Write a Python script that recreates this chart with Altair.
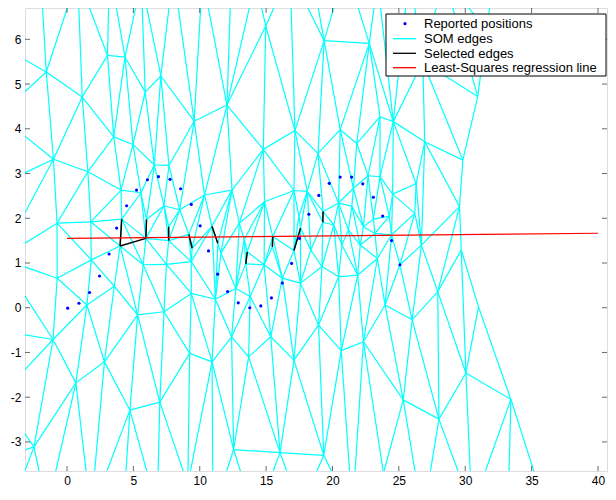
import altair as alt
import pandas as pd

# ---------------- axes ----------------
X_DOMAIN = [-3.164, 40.68]
Y_DOMAIN = [-3.65, 6.70]
X_TICKS = [0, 5, 10, 15, 20, 25, 30, 35, 40]
Y_TICKS = [-3, -2, -1, 0, 1, 2, 3, 4, 5, 6]

# ---------------- reported positions ----------------
POS_X = [0.05, 0.90, 1.70, 2.45, 3.17, 3.74, 4.49, 5.24, 6.06, 6.89, 7.76, 8.56, 9.36, 10.03,
         10.66, 11.35, 12.10, 12.90, 13.77, 14.60, 15.40, 16.22, 16.92, 17.52,
         18.22, 18.97, 19.76, 20.58, 21.44, 22.28, 23.08, 23.78, 24.45, 25.08]
POS_Y = [-0.01, 0.10, 0.34, 0.71, 1.20, 1.78, 2.28, 2.63, 2.86, 2.93, 2.87, 2.66, 2.31, 1.83,
         1.27, 0.75, 0.36, 0.11, 0.00, 0.04, 0.22, 0.55, 0.99, 1.55,
         2.09, 2.51, 2.78, 2.92, 2.92, 2.77, 2.47, 2.05, 1.50, 0.96]

# ---------------- least-squares regression line ----------------
REG_X = [0, 40]
REG_Y = [1.55, 1.665]

# ---------------- selected edges ----------------
SEL_X1 = [4.12, 4.00, 5.94, 7.66, 9.18, 10.92, 13.58, 15.50, 17.59, 19.29]
SEL_Y1 = [1.98, 1.38, 1.55, 1.81, 1.64, 1.82, 1.25, 1.59, 1.78, 2.15]
SEL_X2 = [4.00, 5.94, 5.99, 7.66, 9.43, 11.36, 13.47, 15.47, 17.10, 19.27]
SEL_Y2 = [1.38, 1.55, 1.97, 1.50, 1.33, 1.44, 0.98, 1.36, 1.28, 1.91]

# ---------------- SOM node positions ----------------
NODES_UPPER = [(-1.56, 5.27), (1.15, 4.71), (3.05, 5.64), (4.37, 5.60), (5.89, 4.82), (7.07, 5.18),
               (3.52, 3.82), (4.97, 3.65), (-1.02, 3.32), (1.57, 3.04), (6.58, 3.19), (7.68, 3.18),
               (9.58, 4.17), (12.05, 4.53), (14.97, 6.30), (17.17, 3.96), (14.79, 3.54), (19.37, 5.97),
               (22.77, 5.91), (20.58, 3.98), (18.91, 3.45), (21.83, 3.67), (23.58, 4.27), (24.58, 4.16),
               (26.95, 3.71), (29.82, 3.30), (30.94, 4.72), (26.8, 5.5), (31.6, 6.2)]
NODES_MIDDLE = [(4.07, 2.63), (5.57, 2.57), (7.31, 2.28), (8.49, 2.19), (10.36, 2.52), (12.43, 2.63),
                (14.88, 2.37), (17.10, 2.62), (17.47, 2.05), (-0.75, 1.89), (1.79, 1.92), (4.12, 1.98),
                (5.99, 1.97), (7.66, 1.81), (9.18, 1.64), (10.92, 1.82), (12.98, 1.89), (17.59, 1.78),
                (19.29, 2.15), (19.27, 1.91), (4.00, 1.38), (5.94, 1.55), (7.66, 1.50), (9.43, 1.33),
                (11.36, 1.44), (13.35, 1.53), (13.58, 1.25), (15.50, 1.59), (15.47, 1.36), (17.10, 1.28),
                (11.60, 1.22), (1.83, 1.07), (9.36, 1.03), (18.36, 1.29), (20.71, 1.40), (22.09, 1.40),
                (23.38, 1.10), (26.70, 1.40), (29.70, 1.29), (24.45, 1.63), (23.20, 1.66), (26.20, 2.11),
                (24.28, 2.04), (23.08, 1.98), (21.46, 2.27), (20.46, 2.34), (21.58, 2.67), (23.58, 2.93),
                (22.68, 2.95), (26.30, 2.77), (24.53, 2.54), (29.57, 2.26), (20.10, 1.85), (21.20, 1.74),
                (22.33, 1.81), (18.10, 2.60)]
NODES_LOWER = [(-0.74, 0.66), (5.74, 0.96), (7.49, 0.97), (3.56, 0.48), (9.36, 0.32), (12.72, 0.43),
               (13.47, 0.98), (14.85, 0.96), (16.22, 0.66), (17.59, 0.55), (19.21, 0.92), (20.46, 0.69),
               (21.90, 0.73), (25.08, 0.96), (27.93, 0.36), (11.18, 0.19), (13.80, 0.25), (1.50, 0.06),
               (23.96, 0.06), (31.00, 0.02), (5.32, -0.16), (7.31, -0.09), (-1.05, -0.71), (2.82, -1.21),
               (0.67, -1.68), (4.74, -2.29), (6.99, -2.11), (-2.49, -3.11), (9.24, -1.02), (10.93, -1.21),
               (12.40, -0.65), (13.68, -1.10), (15.35, -0.65), (17.10, -1.17), (18.95, -0.39),
               (20.66, -0.96), (22.33, -0.76), (26.00, -0.27), (30.05, -1.46), (33.44, -2.05),
               (25.33, -2.06), (28.02, -2.49), (12.55, -3.17), (16.05, -3.24), (19.34, -3.30),
               (23.84, -3.70), (35.31, -3.78), (9.10, -3.95)]
NODES_OUTER = [(-5.0, 7.3), (-2.0, 7.5), (0.8, 7.4), (3.2, 7.6), (5.6, 7.3), (8.0, 7.5), (10.2, 7.4),
               (12.4, 7.6), (14.2, 7.3), (16.8, 7.5), (18.5, 7.4), (21.0, 7.6), (23.4, 7.3), (25.8, 7.5),
               (28.4, 7.4), (32.2, 7.5),
               (-5.3, 5.9), (-5.1, 4.3), (-5.4, 2.7), (-5.0, 1.1), (-5.3, -0.5), (-5.1, -2.0), (-5.4, -3.4),
               (-4.5, -4.7), (-1.5, -4.5), (1.8, -4.6), (4.2, -4.8), (6.8, -4.5), (11.0, -4.6),
               (14.2, -4.7), (17.6, -4.5), (21.5, -4.6), (26.8, -4.7), (30.5, -4.5), (33.2, -4.8),
               (36.3, -4.6)]
# right-hand edge of the map (nodes along it, top to bottom)
RIGHT_EDGE = [(32.2, 7.5), (31.6, 6.2), (30.94, 4.72), (29.82, 3.30), (29.57, 2.26), (29.70, 1.29),
              (31.00, 0.02), (33.44, -2.05), (35.31, -3.78), (36.3, -4.6)]

LEGEND_LABELS = ["Reported positions", "SOM edges", "Selected edges", "Least-Squares regression line"]


# ---------------- mesh connectivity (triangulation of the nodes) ----------------
def circum(a, b, c):
    ax, ay = a
    bx, by = b
    cx, cy = c
    d = 2 * (ax * (by - cy) + bx * (cy - ay) + cx * (ay - by))
    if abs(d) < 1e-12:
        return (0.0, 0.0, float("inf"))
    ux = ((ax * ax + ay * ay) * (by - cy) + (bx * bx + by * by) * (cy - ay) + (cx * cx + cy * cy) * (ay - by)) / d
    uy = ((ax * ax + ay * ay) * (cx - bx) + (bx * bx + by * by) * (ax - cx) + (cx * cx + cy * cy) * (bx - ax)) / d
    return (ux, uy, (ax - ux) ** 2 + (ay - uy) ** 2)


def triangulate(points):
    pts = list(points)
    n = len(pts)
    xs = [p[0] for p in pts]
    ys = [p[1] for p in pts]
    mx, my = (min(xs) + max(xs)) / 2, (min(ys) + max(ys)) / 2
    dm = max(max(xs) - min(xs), max(ys) - min(ys)) * 30
    pts += [(mx - dm, my - dm), (mx, my + dm), (mx + dm, my - dm)]
    tris = {(n, n + 1, n + 2): circum(pts[n], pts[n + 1], pts[n + 2])}
    for i in range(n):
        px, py = pts[i]
        bad = [t for t, (ux, uy, r2) in tris.items() if (px - ux) ** 2 + (py - uy) ** 2 < r2]
        cnt = {}
        for t in bad:
            for e in ((t[0], t[1]), (t[1], t[2]), (t[2], t[0])):
                k = tuple(sorted(e))
                cnt[k] = cnt.get(k, 0) + 1
            del tris[t]
        for (a, b), c in cnt.items():
            if c == 1:
                tris[(a, b, i)] = circum(pts[a], pts[b], pts[i])
    return pts, [t for t in tris if max(t) < n]


def edge_x(y):
    pl = RIGHT_EDGE
    if y >= pl[0][1]:
        return pl[0][0]
    if y <= pl[-1][1]:
        return pl[-1][0]
    for (x1, y1), (x2, y2) in zip(pl[:-1], pl[1:]):
        if y2 <= y <= y1:
            f = (y - y1) / (y2 - y1)
            return x1 + f * (x2 - x1)
    return pl[-1][0]


nodes = NODES_UPPER + NODES_MIDDLE + NODES_LOWER + NODES_OUTER
pts, tris = triangulate(nodes)
edges = set()
for t in tris:
    cx = sum(pts[k][0] for k in t) / 3
    cy = sum(pts[k][1] for k in t) / 3
    if cx > edge_x(cy) + 0.02:
        continue
    for a, b in ((t[0], t[1]), (t[1], t[2]), (t[2], t[0])):
        edges.add(tuple(sorted((a, b))))
edges = sorted(edges)
mesh = pd.DataFrame({
    "x1": [pts[a][0] for a, b in edges], "y1": [pts[a][1] for a, b in edges],
    "x2": [pts[b][0] for a, b in edges], "y2": [pts[b][1] for a, b in edges],
})

sel = pd.DataFrame({"x1": SEL_X1, "y1": SEL_Y1, "x2": SEL_X2, "y2": SEL_Y2})
pos = pd.DataFrame({"x": POS_X, "y": POS_Y})
reg = pd.DataFrame({"x": REG_X, "y": REG_Y})
tx = pd.DataFrame({"t": X_TICKS})
ty = pd.DataFrame({"t": Y_TICKS})
one = pd.DataFrame({"a": [0]})

FONT = "Liberation Sans"
W, H = 582, 463
xs = alt.Scale(domain=X_DOMAIN, nice=False, zero=False)
ys = alt.Scale(domain=Y_DOMAIN, nice=False, zero=False)
xax = alt.Axis(values=X_TICKS, grid=False, ticks=False, domain=False, title=None, labelFont=FONT,
               labelFontSize=12, labelColor="black", labelPadding=4, labelExpr="'' + datum.value")
yax = alt.Axis(values=Y_TICKS, grid=False, ticks=False, domain=False, title=None, labelFont=FONT,
               labelFontSize=12, labelColor="black", labelPadding=4, labelExpr="'' + datum.value")

mesh_layer = alt.Chart(mesh).mark_rule(color="#00ffff", strokeWidth=1.2, clip=True).encode(
    x=alt.X("x1:Q", scale=xs, axis=xax), y=alt.Y("y1:Q", scale=ys, axis=yax), x2="x2:Q", y2="y2:Q")
sel_layer = alt.Chart(sel).mark_rule(color="black", strokeWidth=1.5, clip=True).encode(
    x=alt.X("x1:Q", scale=xs, axis=xax), y=alt.Y("y1:Q", scale=ys, axis=yax), x2="x2:Q", y2="y2:Q")
reg_layer = alt.Chart(reg).mark_line(color="red", strokeWidth=1.2, clip=True).encode(
    x=alt.X("x:Q", scale=xs, axis=xax), y=alt.Y("y:Q", scale=ys, axis=yax))
pos_layer = alt.Chart(pos).mark_point(filled=True, color="#0000ff", size=10, opacity=1, clip=True).encode(
    x=alt.X("x:Q", scale=xs, axis=xax), y=alt.Y("y:Q", scale=ys, axis=yax))

tick_color = "#444444"
tick_layers = [
    alt.Chart(tx).mark_rule(color=tick_color, strokeWidth=0.8).encode(x=alt.X("t:Q", scale=xs, axis=xax), y=alt.value(0), y2=alt.value(5)),
    alt.Chart(tx).mark_rule(color=tick_color, strokeWidth=0.8).encode(x=alt.X("t:Q", scale=xs, axis=xax), y=alt.value(H), y2=alt.value(H - 5)),
    alt.Chart(ty).mark_rule(color=tick_color, strokeWidth=0.8).encode(y=alt.Y("t:Q", scale=ys, axis=yax), x=alt.value(0), x2=alt.value(5)),
    alt.Chart(ty).mark_rule(color=tick_color, strokeWidth=0.8).encode(y=alt.Y("t:Q", scale=ys, axis=yax), x=alt.value(W), x2=alt.value(W - 5)),
]

# legend box
LX0, LX1, LY0, LY1 = 361, 581, 6, 68
rows_y = [15.7, 30.7, 45.3, 59.7]
leg = [alt.Chart(one).mark_rect(fill="white", stroke="black", strokeWidth=1).encode(
    x=alt.value(LX0), x2=alt.value(LX1), y=alt.value(LY0), y2=alt.value(LY1))]
leg.append(alt.Chart(one).mark_point(filled=True, color="#0000ff", size=10, opacity=1).encode(
    x=alt.value(380), y=alt.value(rows_y[0])))
for yy, col in zip(rows_y[1:], ["#00ffff", "black", "red"]):
    leg.append(alt.Chart(one).mark_rule(color=col, strokeWidth=1.3).encode(
        x=alt.value(368), x2=alt.value(391), y=alt.value(yy)))
for yy, lab in zip(rows_y, LEGEND_LABELS):
    leg.append(alt.Chart(one).mark_text(align="left", baseline="middle", font=FONT, fontSize=13,
                                        color="black").encode(
        x=alt.value(399), y=alt.value(yy + 0.5), text=alt.value(lab)))

chart = alt.layer(mesh_layer, sel_layer, reg_layer, pos_layer, *tick_layers, *leg).properties(
    width=W, height=H,
    padding={"left": 17, "top": 0, "right": 1, "bottom": 15},
    autosize=alt.AutoSizeParams(type="none"),
).configure_view(stroke="black", strokeWidth=1).configure(background="white")

chart.save("out.html", embed_options={"renderer": "svg", "actions": False})
